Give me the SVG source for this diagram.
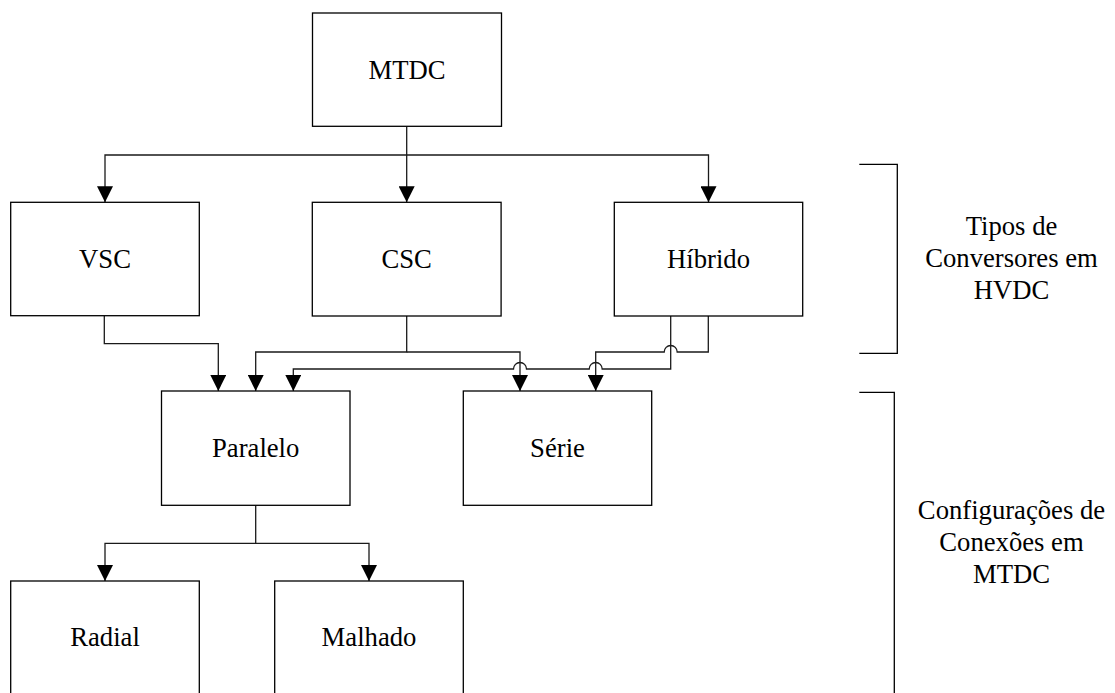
<svg xmlns="http://www.w3.org/2000/svg" width="1115" height="693" viewBox="0 0 1115 693">
  <style>
    .box { fill: #ffffff; stroke: #000000; stroke-width: 1.3; }
    .lbl { font-family: "Liberation Serif", "Times New Roman", serif; font-size: 26.67px; fill: #000000; text-anchor: middle; }
    .wire { fill: none; stroke: #1a1a1a; stroke-width: 1.3; }
    .arrow { marker-end: url(#head); }
    .brace { fill: none; stroke: #000000; stroke-width: 1.3; }
  </style>
  <defs>
    <marker id="head" markerUnits="userSpaceOnUse" markerWidth="16" markerHeight="16" viewBox="0 0 14 14" refX="14" refY="7" orient="auto">
      <path d="M0,0 L14,7 L0,14 Z" fill="#000000"/>
    </marker>
  </defs>

  <!-- connectors -->
  <g id="connectors">
    <!-- MTDC to converter types -->
    <path class="wire arrow" d="M406.7,126.3 V202.3"/>
    <path class="wire arrow" d="M406.7,155 H105 V202.3"/>
    <path class="wire arrow" d="M406.7,155 H708.5 V202.3"/>
    <!-- VSC to Paralelo -->
    <path class="wire arrow" d="M104.3,315.7 V343.7 H218.3 V391"/>
    <!-- CSC to Paralelo and Série -->
    <path class="wire arrow" d="M406.7,316 V352 H255.7 V391"/>
    <path class="wire arrow" d="M406.7,352 H520 V391"/>
    <!-- Híbrido to Paralelo, hopping over the two Série feeds -->
    <path class="wire arrow" d="M670.7,316 V369 H602.2 A6.5,6.5 0 0 0 589.2,369 H526.5 A6.5,6.5 0 0 0 513.5,369 H293.3 V391"/>
    <!-- Híbrido to Série, hopping over the Paralelo feed -->
    <path class="wire arrow" d="M708.3,316 V352 H677.2 A6.5,6.5 0 0 0 664.2,352 H595.7 V391"/>
    <!-- Paralelo to Radial and Malhado -->
    <path class="wire arrow" d="M255.7,505.3 V543.3 H105 V581"/>
    <path class="wire arrow" d="M255.7,543.3 H369 V581"/>
  </g>

  <!-- nodes -->
  <g id="node-mtdc">
    <rect class="box" x="312.5" y="13" width="189" height="113.3"/>
    <text class="lbl" x="407" y="79">MTDC</text>
  </g>
  <g id="node-vsc">
    <rect class="box" x="10.7" y="202.3" width="188.6" height="113.4"/>
    <text class="lbl" x="105" y="267.5">VSC</text>
  </g>
  <g id="node-csc">
    <rect class="box" x="312.3" y="202.3" width="188.8" height="113.7"/>
    <text class="lbl" x="406.7" y="267.5">CSC</text>
  </g>
  <g id="node-hibrido">
    <rect class="box" x="614.3" y="202.3" width="188.4" height="113.7"/>
    <text class="lbl" x="708.5" y="267.5">Híbrido</text>
  </g>
  <g id="node-paralelo">
    <rect class="box" x="161.5" y="391" width="188.5" height="114.3"/>
    <text class="lbl" x="255.7" y="456.5">Paralelo</text>
  </g>
  <g id="node-serie">
    <rect class="box" x="463.3" y="391" width="188.4" height="114.3"/>
    <text class="lbl" x="557.5" y="456.5">Série</text>
  </g>
  <g id="node-radial">
    <rect class="box" x="10.7" y="581" width="188.6" height="114"/>
    <text class="lbl" x="105" y="645.7">Radial</text>
  </g>
  <g id="node-malhado">
    <rect class="box" x="274.7" y="581" width="188.6" height="114"/>
    <text class="lbl" x="369" y="645.7">Malhado</text>
  </g>

  <!-- side brackets with group captions -->
  <g id="group-converters">
    <path class="brace" d="M859.3,164.3 H897.3 V353.3 H859.3"/>
    <text class="lbl" x="1011.5" y="234.5">Tipos de</text>
    <text class="lbl" x="1011.5" y="266.5">Conversores em</text>
    <text class="lbl" x="1011.5" y="298.5">HVDC</text>
  </g>
  <g id="group-configurations">
    <path class="brace" d="M859.3,392.3 H894.3 V700"/>
    <text class="lbl" x="1011.5" y="519.3">Configurações de</text>
    <text class="lbl" x="1011.5" y="551.3">Conexões em</text>
    <text class="lbl" x="1011.5" y="583.3">MTDC</text>
  </g>
</svg>
